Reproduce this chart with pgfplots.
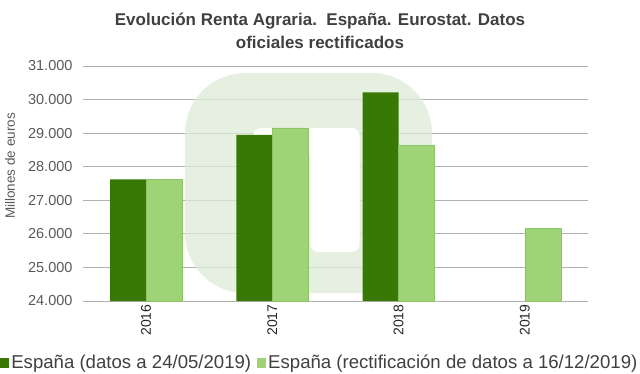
\documentclass[border=0pt]{standalone}
\usepackage{pgfplots}
\pgfplotsset{compat=1.18}
\usepackage{fontspec}
\setmainfont{Liberation Sans}
\definecolor{dkg}{RGB}{56,120,4}
\definecolor{ltg}{RGB}{158,212,118}
\definecolor{ltgb}{RGB}{140,195,100}
\definecolor{wmk}{RGB}{222,235,215}
\definecolor{titlec}{RGB}{64,64,64}
\definecolor{tickc}{RGB}{89,89,89}
\definecolor{gridc}{RGB}{178,178,178}
\begin{document}
\begin{tikzpicture}
\path[use as bounding box] (0,0) rectangle (640pt,373pt);
\node[align=center, font=\fontsize{17}{23}\selectfont\bfseries, text=titlec] at (320pt,342pt) {Evolución Renta Agraria.\ \ España. Eurostat. Datos\\oficiales rectificados};
\node[rotate=90, font=\fontsize{13.5}{16}\selectfont, text=tickc] at (10pt,207pt) {Millones de euros};
\begin{axis}[
  at={(83pt,72pt)}, anchor=south west, scale only axis,
  width=505pt, height=235pt,
  xmin=-0.5, xmax=3.5, ymin=24000, ymax=31000,
  ytick={24000,25000,...,31000},
  scaled y ticks=false,
  xtick={0,1,2,3}, xticklabels={2016,2017,2018,2019},
  ybar=0pt, bar width=36pt,
  axis x line*=bottom, axis y line*=left,
  y axis line style={draw=none},
  x axis line style={gridc, line width=0.9pt},
  major tick length=0pt,
  ymajorgrids, grid style={gridc, line width=0.9pt},
  /pgf/number format/assume math mode=true,
  /pgf/number format/.cd, fixed, 1000 sep={.}, /pgfplots/.cd,
  yticklabel style={font=\fontsize{14.5}{16}\selectfont, text=tickc, xshift=-7pt},
  xticklabel style={font=\fontsize{14}{16}\selectfont, text=black!85, rotate=90, anchor=east},
  legend style={at={(0.469,-0.26)}, anchor=center, draw=none, fill=none,
    font=\fontsize{18.6}{20}\selectfont, text=titlec,
    /tikz/every even column/.append style={column sep=4pt}},
  legend columns=2,
  legend image code/.code={\fill[#1,draw=none] (2pt,-5.5pt) rectangle (11pt,4.5pt);},
]
% faint logo watermark behind the bars
\fill[wmk, opacity=0.75, rounded corners=60pt] (rel axis cs:0.202,0.034) rectangle (rel axis cs:0.691,0.970);
\fill[white, rounded corners=8pt] (rel axis cs:0.337,0.736) -- (rel axis cs:0.548,0.736) -- (rel axis cs:0.548,0.209) -- (rel axis cs:0.450,0.209) -- (rel axis cs:0.450,0.640) -- (rel axis cs:0.337,0.640) -- cycle;
\addplot[fill=dkg, draw=none] coordinates {(0,27620) (1,28945) (2,30217)};
\addplot[fill=ltg, draw=ltgb, line width=0.6pt] coordinates {(0,27620) (1,29155) (2,28637) (3,26158)};
\legend{España (datos a 24/05/2019), España (rectificación de datos a 16/12/2019)}
\end{axis}
\end{tikzpicture}
\end{document}
